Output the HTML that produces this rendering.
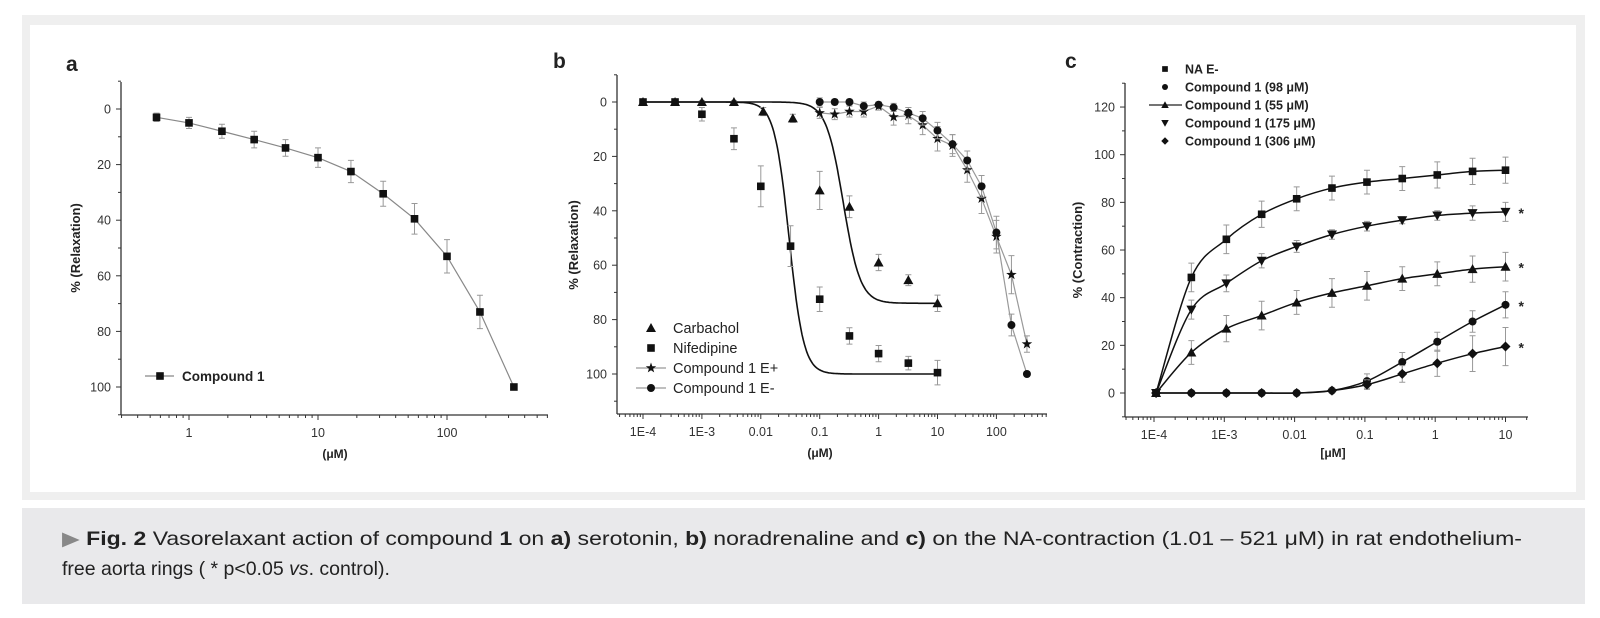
<!DOCTYPE html>
<html><head><meta charset="utf-8">
<style>
html,body{margin:0;padding:0;background:#fff;width:1600px;height:618px;overflow:hidden}
svg{display:block}
text{font-family:"Liberation Sans",sans-serif}
</style></head>
<body>
<svg id="fig" width="1600" height="618" viewBox="0 0 1600 618" xmlns="http://www.w3.org/2000/svg">
<rect x="22" y="15" width="1563" height="485" fill="#efefef"/>
<rect x="30" y="25" width="1546" height="467" fill="#ffffff"/>
<rect x="22" y="508" width="1563" height="96" fill="#e9e9eb"/>
<text x="62" y="545" font-size="19.5" fill="#222" textLength="1460" lengthAdjust="spacingAndGlyphs"><tspan fill="#888">▶</tspan> <tspan font-weight="bold">Fig. 2</tspan>   Vasorelaxant action of compound <tspan font-weight="bold">1</tspan> on  <tspan font-weight="bold">a)</tspan> serotonin, <tspan font-weight="bold">b)</tspan> noradrenaline and  <tspan font-weight="bold">c)</tspan> on the NA-contraction (1.01 – 521 μM) in rat endothelium-</text>
<text x="62" y="575" font-size="19.5" fill="#222">free aorta rings ( *  p&lt;0.05 <tspan font-style="italic">vs</tspan>. control).</text>
<g id="gA"></g>
<g id="gB"></g>
<g id="gC"></g>
</svg>
<script>
// ---------- Panel a data ----------
const aX = [0.56, 1, 1.8, 3.2, 5.6, 10, 18, 32, 56, 100, 180, 330];
const aY = [3, 5, 8, 11, 14, 17.5, 22.5, 30.5, 39.5, 53, 73, 100];
const aErr = [1.5, 2, 2.5, 3, 3, 3.5, 4, 4.5, 5.5, 6, 6, 0];
const aXTicks = [1, 10, 100];
const aXTickLabels = ["1", "10", "100"];
const aYTicks = [0, 20, 40, 60, 80, 100];

// ---------- Panel b data ----------
const bCarbX = [1e-4, 3.5e-4, 1e-3, 3.5e-3, 0.011, 0.035, 0.1, 0.32, 1, 3.2, 10];
const bCarbY = [0, 0, 0, 0, 3.5, 6, 32.5, 38.5, 59, 65.5, 74];
const bCarbErr = [0.5, 0.5, 0.5, 0.5, 1.5, 1.5, 7, 4, 3, 2, 3];
const bNifX = [1e-4, 3.5e-4, 1e-3, 3.5e-3, 0.01, 0.032, 0.1, 0.32, 1, 3.2, 10];
const bNifY = [0, 0, 4.5, 13.5, 31, 53, 72.5, 86, 92.5, 96, 99.5];
const bNifErr = [0.5, 0.5, 2.5, 4, 7.5, 7.5, 4.5, 3, 3, 2.5, 4.5];
const bEpX = [0.1, 0.18, 0.32, 0.56, 1, 1.8, 3.2, 5.6, 10, 18, 32, 56, 100, 180, 330];
const bEpY = [4, 4.5, 3.5, 3.5, 1.5, 5.5, 5, 8.5, 13.5, 16, 25, 35.5, 49.5, 63.5, 89];
const bEpErr = [2, 2, 2, 2, 1.5, 3, 3, 3.5, 4.5, 4, 4.5, 5.5, 6, 7, 3];
const bEmX = [0.1, 0.18, 0.32, 0.56, 1, 1.8, 3.2, 5.6, 10, 18, 32, 56, 100, 180, 330];
const bEmY = [0, 0, 0, 1.5, 1, 2, 4, 6, 10.5, 15.5, 21.5, 31, 48, 82, 100];
const bEmErr = [1.5, 1, 1, 1.5, 1, 1.5, 2, 2.5, 3, 3.5, 3.5, 4, 6, 4, 0];
// fitted curve parameters [bottom, logEC50, hill]
const bCarbFit = [74, -0.6, 3];
const bNifFit = [100, -1.52, 3.5];
const bXTicks = [1e-4, 1e-3, 0.01, 0.1, 1, 10, 100];
const bXTickLabels = ["1E-4", "1E-3", "0.01", "0.1", "1", "10", "100"];
const bYTicks = [0, 20, 40, 60, 80, 100];

// ---------- Panel c data ----------
const cX = [1.07e-4, 3.4e-4, 1.07e-3, 3.4e-3, 0.0107, 0.034, 0.107, 0.34, 1.07, 3.4, 10];
const cNA = [0, 48.5, 64.5, 75, 81.5, 86, 88.5, 90, 91.5, 93, 93.5];
const cNAErr = [1, 6, 6, 5.5, 5, 5, 5, 5, 5.5, 5.5, 5.5];
const cC175 = [0, 35, 46, 55.5, 61.5, 66.5, 70, 72.5, 74.5, 75.5, 76];
const cC175Err = [1, 4, 3.5, 3, 2.5, 2, 2, 1.5, 2, 3, 4];
const cC55 = [0, 17, 27, 32.5, 38, 42, 45, 48, 50, 52, 53];
const cC55Err = [1, 5, 5.5, 6, 5, 6, 6, 5, 5, 5.5, 6];
const cC98 = [0, 0, 0, 0, 0, 1, 5, 13, 21.5, 30, 37];
const cC98Err = [0.5, 0.5, 0.5, 0.5, 0.5, 1, 3, 4, 4, 4.5, 5.5];
const cC306 = [0, 0, 0, 0, 0, 1, 3.5, 8, 12.5, 16.5, 19.5];
const cC306Err = [0.5, 0.5, 0.5, 0.5, 0.5, 1, 2, 3.5, 5.5, 7.5, 8];
const cXTicks = [1e-4, 1e-3, 0.01, 0.1, 1, 10];
const cXTickLabels = ["1E-4", "1E-3", "0.01", "0.1", "1", "10"];
const cYTicks = [0, 20, 40, 60, 80, 100, 120];

const NS = "http://www.w3.org/2000/svg";
function mk(parent, tag, attrs) {
  const e = document.createElementNS(NS, tag);
  for (const k in attrs) e.setAttribute(k, attrs[k]);
  parent.appendChild(e);
  return e;
}
function makeAxes(o) {
  return {
    X: v => o.px0 + (Math.log10(v) - o.l0) * o.dec,
    Y: v => o.py0 + o.k * v,
    o: o
  };
}
const axA = makeAxes({px0: 189, l0: 0, dec: 129, py0: 109, k: 2.78, xl: 121, xr: 548, yt: 82, yb: 415, lmin: -0.6, lmax: 2.8});
const axB = makeAxes({px0: 643, l0: -4, dec: 58.9, py0: 102, k: 2.72, xl: 617, xr: 1047, yt: 75, yb: 414, lmin: -4.5, lmax: 2.7});
const axC = makeAxes({px0: 1154, l0: -4, dec: 70.3, py0: 393, k: -2.383, xl: 1125, xr: 1528, yt: 83, yb: 417, lmin: -4.5, lmax: 1.4});

function drawFrame(g, ax, xt, xtl, yt, yMinorStep) {
  const o = ax.o;
  const yAxis = mk(g, "line", {x1: o.xl, y1: o.yt, x2: o.xl, y2: o.yb, stroke: "#333", "stroke-width": 1.3});
  
  
  const xAxis = mk(g, "line", {x1: o.xl, y1: o.yb, x2: o.xr, y2: o.yb, stroke: "#333", "stroke-width": 1.3});
  
  
  // log minor ticks
  for (let d = Math.floor(o.lmin); d <= Math.ceil(o.lmax); d++) {
    for (let m = 1; m <= 9; m++) {
      const lv = d + Math.log10(m);
      const px = o.px0 + (lv - o.l0) * o.dec;
      if (px < o.xl || px > o.xr) continue;
      const t = mk(g, "line", {x1: px, y1: o.yb, x2: px, y2: o.yb + (m === 1 ? 5 : 3), stroke: "#333", "stroke-width": 1});
      
      
    }
  }
  xt.forEach((v, i) => {
    const t = mk(g, "text", {x: ax.X(v), y: o.yb + 22, "font-size": 12.5, "text-anchor": "middle", fill: "#333"});
    t.textContent = xtl[i];
    
    
  });
  yt.forEach(v => {
    const py = ax.Y(v);
    const t = mk(g, "line", {x1: o.xl - 5, y1: py, x2: o.xl, y2: py, stroke: "#333", "stroke-width": 1});
    
    
    const m = mk(g, "line", {x1: o.xl - 3, y1: ax.Y(v + yMinorStep), x2: o.xl, y2: ax.Y(v + yMinorStep), stroke: "#333", "stroke-width": 1});
    
    
    const l = mk(g, "text", {x: o.xl - 10, y: py + 4.5, "font-size": 12.5, "text-anchor": "end", fill: "#333"});
    l.textContent = String(v);
    
    
  });
  const m0 = mk(g, "line", {x1: o.xl - 3, y1: ax.Y(yt[0] - yMinorStep), x2: o.xl, y2: ax.Y(yt[0] - yMinorStep), stroke: "#333", "stroke-width": 1});
  
  
}
function marker(g, type, x, y, name) {
  let e;
  const s = 3.8;
  if (type === "sq") e = mk(g, "rect", {x: x - s, y: y - s, width: 2 * s, height: 2 * s, fill: "#111"});
  else if (type === "ci") e = mk(g, "circle", {cx: x, cy: y, r: 4, fill: "#111"});
  else if (type === "tu") e = mk(g, "polygon", {points: `${x},${y - 5} ${x - 5},${y + 4} ${x + 5},${y + 4}`, fill: "#111"});
  else if (type === "td") e = mk(g, "polygon", {points: `${x},${y + 5} ${x - 5},${y - 4} ${x + 5},${y - 4}`, fill: "#111"});
  else if (type === "di") e = mk(g, "polygon", {points: `${x},${y - 5} ${x + 5},${y} ${x},${y + 5} ${x - 5},${y}`, fill: "#111"});
  else if (type === "st") {
    let p = [];
    for (let i = 0; i < 10; i++) {
      const r = i % 2 ? 2.2 : 5.5, a = -Math.PI / 2 + i * Math.PI / 5;
      p.push((x + r * Math.cos(a)).toFixed(1) + "," + (y + r * Math.sin(a)).toFixed(1));
    }
    e = mk(g, "polygon", {points: p.join(" "), fill: "#111"});
  }
  
  
  return e;
}
function errbar(g, x, y1, y2) {
  const e = mk(g, "path", {d: `M${x},${y1}V${y2}M${x - 3},${y1}H${x + 3}M${x - 3},${y2}H${x + 3}`, stroke: "#999", "stroke-width": 1, fill: "none"});
  
  
}
function series(g, ax, xs, ys, errs, type, name) {
  xs.forEach((v, i) => {
    if (errs[i] > 0) errbar(g, ax.X(v), ax.Y(ys[i] - errs[i]), ax.Y(ys[i] + errs[i]));
  });
  xs.forEach((v, i) => marker(g, type, ax.X(v), ax.Y(ys[i]), name));
}
function polyline(g, ax, xs, ys, color, name, w) {
  const e = mk(g, "polyline", {points: xs.map((v, i) => ax.X(v) + "," + ax.Y(ys[i])).join(" "), fill: "none", stroke: color, "stroke-width": w || 1.2});
  
  
}
function spline(g, ax, xs, ys, name) {
  const P = xs.map((v, i) => [ax.X(v), ax.Y(ys[i])]);
  let d = "M" + P[0][0] + "," + P[0][1];
  for (let i = 0; i < P.length - 1; i++) {
    const p0 = P[Math.max(0, i - 1)], p1 = P[i], p2 = P[i + 1], p3 = P[Math.min(P.length - 1, i + 2)];
    const c1 = [p1[0] + (p2[0] - p0[0]) / 6, p1[1] + (p2[1] - p0[1]) / 6];
    const c2 = [p2[0] - (p3[0] - p1[0]) / 6, p2[1] - (p3[1] - p1[1]) / 6];
    d += `C${c1[0]},${c1[1]} ${c2[0]},${c2[1]} ${p2[0]},${p2[1]}`;
  }
  const e = mk(g, "path", {d: d, fill: "none", stroke: "#111", "stroke-width": 1.5});
  
  
}
function fitCurve(g, ax, fit, lo, hi, name) {
  let d = "";
  for (let l = lo; l <= hi + 1e-9; l += 0.02) {
    const y = fit[0] / (1 + Math.pow(10, (fit[1] - l) * fit[2]));
    d += (d ? "L" : "M") + ax.X(Math.pow(10, l)).toFixed(1) + "," + ax.Y(y).toFixed(1);
  }
  const e = mk(g, "path", {d: d, fill: "none", stroke: "#111", "stroke-width": 1.6});
  
  
}
function txt(g, x, y, s, attrs, name) {
  const e = mk(g, "text", Object.assign({x: x, y: y, fill: "#222"}, attrs));
  e.textContent = s;
  
  
  return e;
}

// ===== Panel a =====
const gA = document.getElementById("gA");
txt(gA, 66, 71, "a", {"font-size": 21, "font-weight": "bold", fill: "#222"}, "panel-label-a");
drawFrame(gA, axA, aXTicks, aXTickLabels, aYTicks, 10);
txt(gA, 80, 248, "% (Relaxation)", {"font-size": 13, "font-weight": "bold", "text-anchor": "middle", transform: "rotate(-90 80 248)"}, "y-axis-title");
txt(gA, 335, 458, "(μM)", {"font-size": 12, "font-weight": "bold", "text-anchor": "middle"}, "x-axis-title");
polyline(gA, axA, aX, aY, "#888", "compound-1-line");
series(gA, axA, aX, aY, aErr, "sq", "compound-1-point");
(function () {
  const l = mk(gA, "line", {x1: 145, y1: 376, x2: 174, y2: 376, stroke: "#888", "stroke-width": 1.2});
  
  
  marker(gA, "sq", 160, 376, "legend-marker");
  txt(gA, 182, 381, "Compound 1", {"font-size": 13.5, "font-weight": "bold"}, "legend-entry-compound-1");
})();

// ===== Panel b =====
const gB = document.getElementById("gB");
txt(gB, 553, 68, "b", {"font-size": 21, "font-weight": "bold"}, "panel-label-b");
drawFrame(gB, axB, bXTicks, bXTickLabels, bYTicks, 10);
txt(gB, 578, 245, "% (Relaxation)", {"font-size": 13, "font-weight": "bold", "text-anchor": "middle", transform: "rotate(-90 578 245)"}, "y-axis-title");
txt(gB, 820, 457, "(μM)", {"font-size": 12, "font-weight": "bold", "text-anchor": "middle"}, "x-axis-title");
fitCurve(gB, axB, bCarbFit, -4, 1, "carbachol-fit");
fitCurve(gB, axB, bNifFit, -4, 1, "nifedipine-fit");
polyline(gB, axB, bEpX, bEpY, "#999", "compound-1-e-plus-line");
polyline(gB, axB, bEmX, bEmY, "#999", "compound-1-e-minus-line");
series(gB, axB, bCarbX, bCarbY, bCarbErr, "tu", "carbachol-point");
series(gB, axB, bNifX, bNifY, bNifErr, "sq", "nifedipine-point");
series(gB, axB, bEpX, bEpY, bEpErr, "st", "compound-1-e-plus-point");
series(gB, axB, bEmX, bEmY, bEmErr, "ci", "compound-1-e-minus-point");
(function () {
  const rows = [["tu", "Carbachol", false], ["sq", "Nifedipine", false], ["st", "Compound 1 E+", true], ["ci", "Compound 1 E-", true]];
  rows.forEach((r, i) => {
    const y = 328 + i * 20;
    if (r[2]) {
      const l = mk(gB, "line", {x1: 636, y1: y, x2: 666, y2: y, stroke: "#999", "stroke-width": 1.2});
      
      
    }
    marker(gB, r[0], 651, y, "legend-marker");
    txt(gB, 673, y + 5, r[1], {"font-size": 14.5}, "legend-entry");
  });
})();

// ===== Panel c =====
const gC = document.getElementById("gC");
txt(gC, 1065, 68, "c", {"font-size": 21, "font-weight": "bold"}, "panel-label-c");
drawFrame(gC, axC, cXTicks, cXTickLabels, cYTicks, 10);
txt(gC, 1082, 250, "% (Contraction)", {"font-size": 13, "font-weight": "bold", "text-anchor": "middle", transform: "rotate(-90 1082 250)"}, "y-axis-title");
txt(gC, 1333, 457, "[μM]", {"font-size": 12, "font-weight": "bold", "text-anchor": "middle"}, "x-axis-title");
spline(gC, axC, cX, cNA, "na-fit");
spline(gC, axC, cX, cC175, "compound-175-fit");
spline(gC, axC, cX, cC55, "compound-55-fit");
spline(gC, axC, cX, cC98, "compound-98-fit");
spline(gC, axC, cX, cC306, "compound-306-fit");
series(gC, axC, cX, cNA, cNAErr, "sq", "na-point");
series(gC, axC, cX, cC175, cC175Err, "td", "compound-175-point");
series(gC, axC, cX, cC55, cC55Err, "tu", "compound-55-point");
series(gC, axC, cX, cC98, cC98Err, "ci", "compound-98-point");
series(gC, axC, cX, cC306, cC306Err, "di", "compound-306-point");
[cC175, cC55, cC98, cC306].forEach(s => {
  txt(gC, axC.X(cX[cX.length - 1]) + 13, axC.Y(s[s.length - 1]) + 6, "*", {"font-size": 14, "font-weight": "bold"}, "significance-asterisk");
});
(function () {
  const rows = [["sq", "NA E-"], ["ci", "Compound 1 (98 μM)"], ["tu", "Compound 1 (55 μM)"], ["td", "Compound 1 (175 μM)"], ["di", "Compound 1 (306 μM)"]];
  rows.forEach((r, i) => {
    const y = 69 + i * 18;
    if (i === 2) {
      const l = mk(gC, "line", {x1: 1149, y1: y, x2: 1182, y2: y, stroke: "#222", "stroke-width": 1.2});
      
      
    }
    const m = marker(gC, r[0], 1165, y, "legend-marker");
    m.setAttribute("transform", `translate(1165 ${y}) scale(0.75) translate(-1165 ${-y})`);
    txt(gC, 1185, y + 4.5, r[1], {"font-size": 12.5, "font-weight": "bold"}, "legend-entry");
  });
})();
</script>
</body></html>
